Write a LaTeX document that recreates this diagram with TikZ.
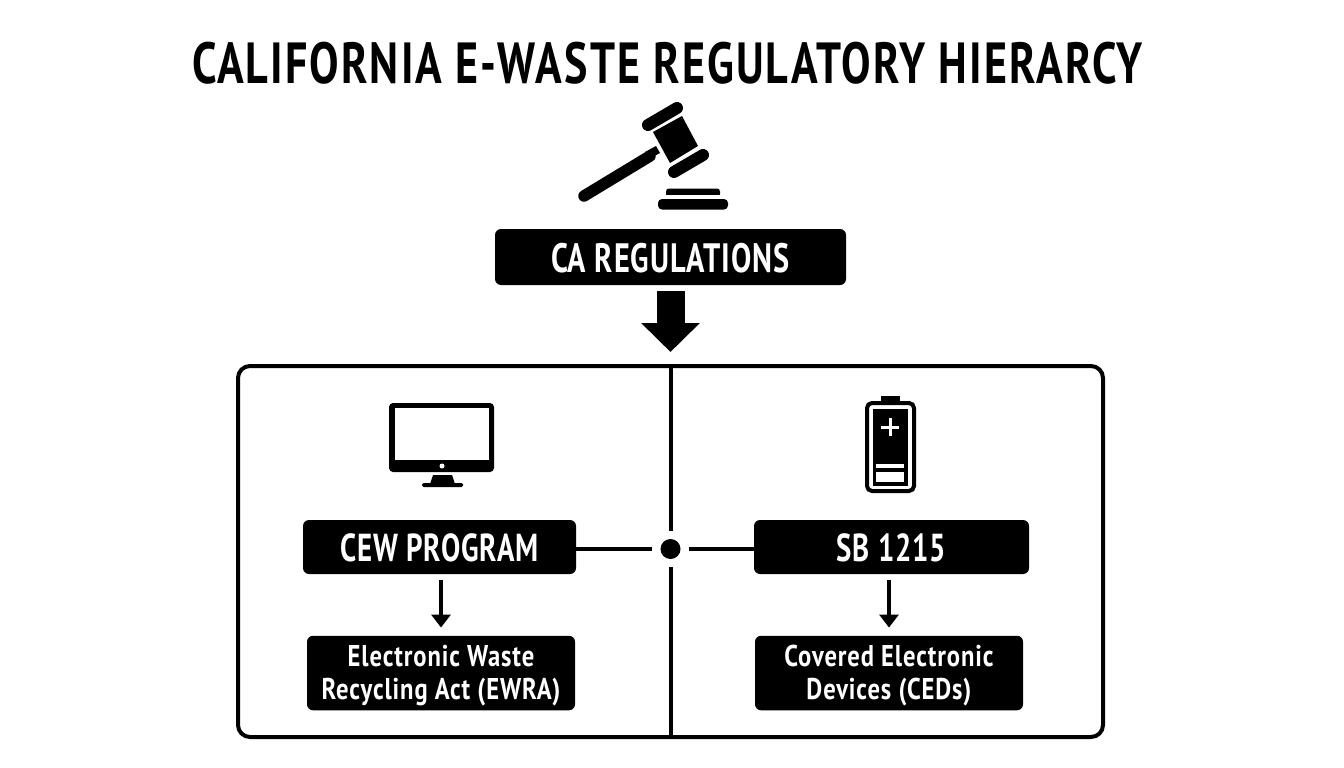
\documentclass[tikz,border=0pt]{standalone}
\usepackage{fontspec}
\usetikzlibrary{arrows.meta,calc}
\setmainfont{PT Sans}
\newfontfamily\tfont[FakeStretch=0.76,LetterSpace=3.6]{PT Sans Bold}
\newfontfamily\hfont[FakeStretch=0.74,LetterSpace=2.2]{PT Sans Bold}
\newfontfamily\sfont[FakeStretch=0.82,LetterSpace=3]{PT Sans Bold}
\tikzset{
  blackbox/.style={fill=black,text=white,rounded corners=6pt,inner sep=0pt,align=center},
  ink/.style={fill=black,draw=none},
  link/.style={draw=black,line width=4.5pt},
  downarrow/.style={draw=black,line width=4pt,-{Triangle[length=13pt,width=19pt]},shorten <=6pt,shorten >=8pt}
}
\begin{document}
\begin{tikzpicture}[x=1pt,y=-1pt]
\useasboundingbox (0,0) rectangle (1344,768);
\node[font=\tfont\fontsize{58}{60}\selectfont,inner sep=0pt,anchor=base] (title) at (667.5,83) {CALIFORNIA E-WASTE REGULATORY HIERARCY};
% gavel
\draw[line width=11.5pt,line cap=round] (584,196) -- (650,156);
\fill[ink] (645,152) -- (656,146) -- (660,153) -- (649,159) -- cycle;
\fill[ink] (653,132) -- (682,116) -- (698,146) -- (670,163) -- cycle;
\draw[line width=12pt,line cap=round] (648,125) -- (677,108);
\draw[line width=12pt,line cap=round] (674,172) -- (703,155);
\fill[ink,rounded corners=3pt] (666,197) -- (666,188.5) -- (720,188.5) -- (720,197) -- cycle;
\fill[white] (660,195) rectangle (726,199);
\fill[ink,rounded corners=4pt] (658,199) rectangle (728,209.5);
% top box
\node[blackbox,minimum width=351pt,minimum height=56pt,font=\hfont\fontsize{41}{43}\selectfont] (ca) at (670.5,257) {\rule{0pt}{32pt}CA REGULATIONS};
% panel
\node[draw=black,line width=4pt,rounded corners=12pt,minimum width=865pt,minimum height=371pt,inner sep=0pt] (panel) at (670.5,551.5) {};
\draw[draw=black,line width=28pt,-{Triangle[length=29pt,width=57pt]},shorten <=6pt,shorten >=12pt] (ca.south) -- (panel.north);
% hub
\node[circle,minimum size=36pt,inner sep=0pt] (hub) at (670.5,549) {};
\fill[ink] (hub) circle (10pt);
\draw[link,line width=4pt] (panel.north) -- (hub.north);
\draw[link,line width=4pt] (hub.south) -- (panel.south);
% boxes
\node[blackbox,minimum width=273pt,minimum height=54pt,font=\hfont\fontsize{39}{41}\selectfont] (cew) at (439.5,547) {\rule{0pt}{30pt}CEW PROGRAM};
\node[blackbox,minimum width=275pt,minimum height=54pt,font=\hfont\fontsize{39}{41}\selectfont] (sb) at (891.5,547) {\rule{0pt}{30pt}SB 1215};
\node[blackbox,minimum width=268pt,minimum height=74.5pt,font=\sfont\fontsize{30}{33}\selectfont] (ewra) at (441,673) {\rule{0pt}{27pt}Electronic Waste\\Recycling Act (EWRA)};
\node[blackbox,minimum width=268pt,minimum height=74.5pt,font=\sfont\fontsize{30}{33}\selectfont] (ced) at (889,673) {\rule{0pt}{27pt}Covered Electronic\\Devices (CEDs)};
\draw[link] (hub.west -| cew.east) -- (hub.west);
\draw[link] (hub.east -| sb.west) -- (hub.east);
\draw[downarrow] (ewra.north |- cew.south) -- (ewra.north);
\draw[downarrow] (ced.north |- sb.south) -- (ced.north);
% monitor
\fill[ink,rounded corners=4pt] (389,403) rectangle (494,472);
\fill[white] (395,408) rectangle (489,460);
\fill[white] (442,466) circle (2.5pt);
\fill[ink] (433,475) -- (452,475) -- (455,484) -- (430,484) -- cycle;
\fill[ink,rounded corners=1.5pt] (422,483) rectangle (463,487);
% battery
\fill[ink] (881,396) rectangle (900,403);
\draw[line width=4pt,rounded corners=5pt] (867,403) rectangle (914,491);
\fill[ink] (873,409) rectangle (908,486);
\fill[white] (881,425.5) rectangle (899,428.5);
\fill[white] (888.5,418) rectangle (891.5,436);
\fill[white] (876,464) rectangle (904,468);
\fill[white] (876,472) rectangle (904,482);
\end{tikzpicture}
\end{document}
